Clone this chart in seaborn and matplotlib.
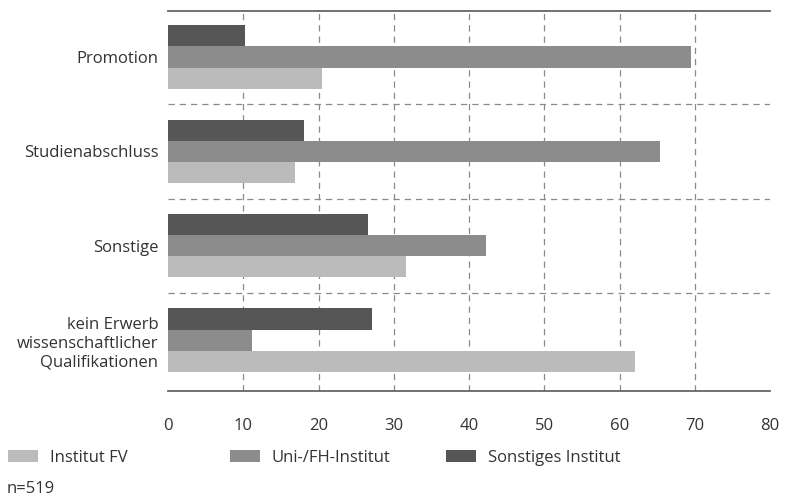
import matplotlib
matplotlib.use("Agg")
import matplotlib.pyplot as plt
import pandas as pd
import seaborn as sns
from matplotlib.patches import Patch

categories = ["Promotion", "Studienabschluss", "Sonstige",
              "kein Erwerb\nwissenschaftlicher\nQualifikationen"]
series = ["Sonstiges Institut", "Uni-/FH-Institut", "Institut FV"]
sonstiges_institut = [10.2, 18.1, 26.6, 27.1]
uni_fh_institut = [69.5, 65.4, 42.2, 11.2]
institut_fv = [20.4, 16.9, 31.6, 62.1]
legend_order = ["Institut FV", "Uni-/FH-Institut", "Sonstiges Institut"]
xticks = [0, 10, 20, 30, 40, 50, 60, 70, 80]
note = "n=519"

colors = {"Sonstiges Institut": "#565656",
          "Uni-/FH-Institut": "#8c8c8c",
          "Institut FV": "#bbbbbb"}

df = pd.DataFrame({
    "Kategorie": categories * 3,
    "Institut": [s for s in series for _ in categories],
    "Wert": sonstiges_institut + uni_fh_institut + institut_fv,
})

sns.set_theme(style="white")
plt.rcParams["font.family"] = ["Open Sans", "DejaVu Sans"]
text_color = "#333333"
fs = 12

fig = plt.figure(figsize=(7.85, 4.99), dpi=100)
ax = fig.add_axes([0.214, 0.2164, 0.767, 0.762])

sns.barplot(data=df, x="Wert", y="Kategorie", hue="Institut", hue_order=series,
            order=categories, palette=colors, orient="h", width=0.67,
            saturation=1, linewidth=0, ax=ax, legend=False, zorder=3)

ax.set_xlim(0, 80)
ax.set_ylim(3.54, -0.49)
ax.set_xticks(xticks)
ax.set_xticklabels([str(t) for t in xticks], fontsize=fs, color=text_color)
ax.set_yticks(range(len(categories)))
ax.set_yticklabels(categories, fontsize=fs, color=text_color, linespacing=1.25)
ax.set_xlabel("")
ax.set_ylabel("")
ax.tick_params(axis="y", length=0, pad=7)
ax.tick_params(axis="x", direction="out", length=9.5, width=1.2, color="#555555",
               pad=10)

# gestrichelte Hilfslinien
for t in xticks[1:-1]:
    ax.axvline(t, color="#8a8a8a", lw=0.9, ls=(0, (5, 4)), zorder=1)
for y in [0.5, 1.5, 2.5]:
    ax.axhline(y, color="#8a8a8a", lw=0.9, ls=(0, (5, 4)), zorder=1)

for side in ["left", "right"]:
    ax.spines[side].set_visible(False)
for side in ["top", "bottom"]:
    ax.spines[side].set_color("#666666")
    ax.spines[side].set_linewidth(1.3)

# Legende: drei Einträge, einzeln platziert
legend_x = [8 / 785, 230 / 785, 446 / 785]
for name, x in zip(legend_order, legend_x):
    leg = fig.legend([Patch(facecolor=colors[name], edgecolor="none")], [name],
                     loc="center left", bbox_to_anchor=(x, 0.083),
                     frameon=False, fontsize=fs, handlelength=1.8,
                     handleheight=0.75, handletextpad=0.7,
                     borderpad=0, borderaxespad=0)
    leg.get_texts()[0].set_color(text_color)

fig.text(0.009, 0.012, note, fontsize=fs, color=text_color)

fig.savefig("out.png", dpi=100)
